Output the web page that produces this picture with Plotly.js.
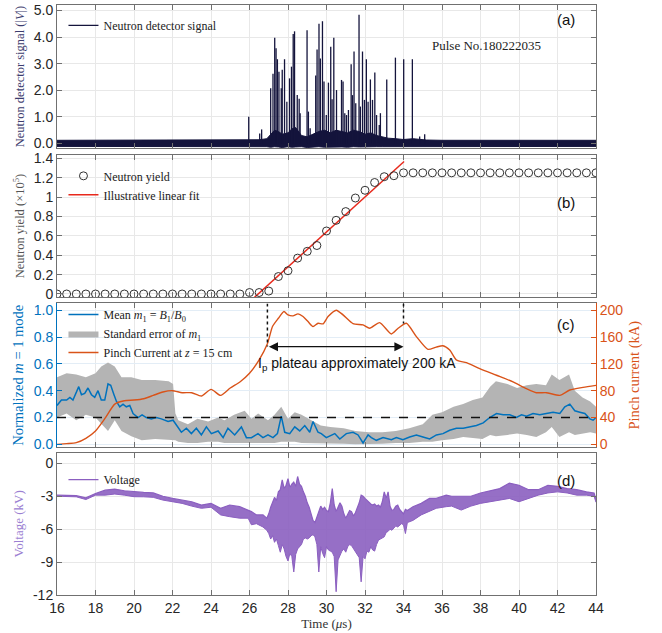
<!DOCTYPE html>
<html>
<head>
<meta charset="utf-8">
<script src="https://cdn.plot.ly/plotly-3.0.1.min.js"></script>
<style>
  html, body { margin: 0; padding: 0; background: #fff; }
  #myDiv { width: 662px; height: 633px; }
</style>
</head>
<body>
<div id="myDiv"></div>
<script>
// ---- (a) neutron detector signal: spike times / heights and baseline noise band
var spikeT = [25.96,26.53,26.63,27.1,27.22,27.31,27.38,27.45,27.53,27.65,27.7,27.82,27.94,28.08,28.18,28.27,28.34,28.48,28.58,28.63,28.99,29.06,29.15,29.44,29.51,29.61,29.68,29.79,29.87,29.99,30.1,30.22,30.29,30.38,30.52,30.78,30.86,30.95,31.04,31.14,31.28,31.35,31.43,31.52,31.69,31.76,31.87,31.97,32.07,32.16,32.28,32.39,32.51,32.6,32.74,32.8,33.13,33.58,34.01,34.46,34.84,35.1];
var spikeV = [1.01,0.38,0.53,2.08,2.62,3.98,3.58,3.17,2.70,2.08,2.77,3.17,1.57,2.45,2.89,4.12,4.22,1.82,1.68,1.14,4.26,1.20,0.57,2.56,3.54,4.5,3.2,4.6,2.33,1.07,2.29,3.64,1.66,3.98,2.01,2.39,2.33,1.14,1.07,1.26,2.98,1.82,3.46,1.51,4.84,1.39,3.46,1.64,3.17,1.57,2.41,1.64,2.67,1.07,0.7,1.14,2.41,3.23,3.17,3.17,0.26,0.35];
var noiseT  = [16,20,24,26,26.5,26.9,27.1,27.3,27.5,27.7,28.0,28.2,28.4,28.7,29.0,29.3,29.6,29.9,30.2,30.5,30.8,31.1,31.4,31.7,32.0,32.3,32.6,32.9,33.2,33.6,34.0,34.5,35.2,36,40,44];
var noiseHi = [0.12,0.12,0.12,0.13,0.14,0.18,0.35,0.5,0.45,0.35,0.4,0.55,0.6,0.3,0.25,0.35,0.45,0.5,0.4,0.5,0.45,0.4,0.5,0.45,0.35,0.4,0.3,0.25,0.2,0.18,0.15,0.18,0.13,0.12,0.12,0.12];
var noiseLo = [-0.11,-0.11,-0.11,-0.11,-0.11,-0.12,-0.14,-0.12,-0.13,-0.15,-0.12,-0.14,-0.13,-0.12,-0.15,-0.13,-0.12,-0.14,-0.13,-0.12,-0.13,-0.14,-0.12,-0.13,-0.12,-0.13,-0.12,-0.12,-0.12,-0.11,-0.11,-0.11,-0.11,-0.11,-0.11,-0.11];

// ---- (b) neutron yield (x1e5) and the illustrative fit
var yieldT = [16,16.5,17,17.5,18,18.5,19,19.5,20,20.5,21,21.5,22,22.5,23,23.5,24,24.5,25,25.5,26,26.5,27,27.5,28,28.5,29,29.5,30,30.5,31,31.5,32,32.5,33,33.5,34,34.5,35,35.5,36,36.5,37,37.5,38,38.5,39,39.5,40,40.5,41,41.5,42,42.5,43,43.5,44];
var yieldV = [0,0,0,0,0,0,0,0,0,0,0,0,0,0,0,0,0,0,0,0,0.015,0.015,0.03,0.18,0.24,0.37,0.44,0.50,0.65,0.76,0.85,0.99,1.07,1.15,1.21,1.22,1.25,1.25,1.25,1.25,1.25,1.25,1.25,1.25,1.25,1.25,1.25,1.25,1.25,1.25,1.25,1.25,1.25,1.25,1.25,1.25,1.25];
var fitT = [26.26, 34.03];
var fitV = [-0.034, 1.366];

// ---- (c) m=1 mode mean, its standard-error band, pinch current (kA)
var m1T = [16.0,16.23,16.5,16.67,16.83,17.0,17.13,17.27,17.44,17.61,17.79,17.96,18.13,18.3,18.48,18.65,18.79,18.96,19.09,19.26,19.43,19.6,19.78,19.95,20.21,20.42,20.64,20.9,21.16,21.42,21.77,22.03,22.29,22.46,22.72,22.98,23.24,23.5,23.76,24.02,24.37,24.63,24.88,25.23,25.58,25.84,26.1,26.44,26.7,26.96,27.22,27.45,27.65,27.83,28.09,28.35,28.61,28.87,29.13,29.3,29.56,29.73,29.99,30.25,30.43,30.69,31.03,31.38,31.64,31.9,32.16,32.33,32.59,32.94,33.37,33.63,33.97,34.32,34.67,35.01,35.36,35.71,36.05,36.4,36.75,37.1,37.44,37.79,38.14,38.48,38.83,39.18,39.52,39.87,40.13,40.39,40.73,41.08,41.42,41.77,42.12,42.38,42.64,42.9,43.16,43.42,43.68,43.85,44.0];
var m1V = [0.29,0.33,0.33,0.35,0.33,0.39,0.43,0.37,0.38,0.42,0.37,0.35,0.40,0.33,0.33,0.45,0.44,0.37,0.32,0.28,0.30,0.28,0.29,0.23,0.20,0.22,0.20,0.19,0.20,0.19,0.17,0.18,0.13,0.09,0.12,0.08,0.12,0.07,0.13,0.08,0.10,0.05,0.12,0.07,0.13,0.05,0.05,0.08,0.05,0.07,0.05,0.08,0.21,0.09,0.08,0.13,0.10,0.14,0.09,0.17,0.09,0.08,0.05,0.07,0.08,0.04,0.08,0.09,0.07,0.01,0.07,0.05,0.03,0.05,0.035,0.05,0.035,0.055,0.07,0.055,0.04,0.07,0.08,0.105,0.12,0.12,0.13,0.14,0.16,0.20,0.23,0.22,0.22,0.20,0.22,0.21,0.23,0.22,0.23,0.24,0.23,0.28,0.30,0.25,0.24,0.23,0.19,0.18,0.20];
var seT  = [16,16.5,17,17.5,18,18.3,18.65,19,19.35,19.86,20.4,21.1,21.8,22.03,22.15,22.3,22.8,23.3,23.85,24.37,24.7,25.2,25.75,26.1,26.45,26.96,27.3,27.65,28,28.35,28.7,29.2,29.7,30.2,30.9,31.5,32.2,32.9,33.6,34.3,35,35.5,36,36.6,37.1,37.6,38.1,38.5,38.8,39.4,39.9,40.4,40.9,41.4,41.7,42.1,42.6,42.9,43.3,43.7,44];
var seHi = [0.50,0.53,0.52,0.50,0.53,0.58,0.61,0.58,0.50,0.50,0.48,0.48,0.47,0.45,0.23,0.18,0.15,0.19,0.17,0.20,0.18,0.22,0.25,0.19,0.23,0.18,0.22,0.28,0.19,0.24,0.22,0.18,0.14,0.13,0.12,0.10,0.09,0.09,0.10,0.12,0.15,0.22,0.24,0.28,0.30,0.33,0.35,0.43,0.47,0.45,0.42,0.44,0.45,0.44,0.52,0.48,0.52,0.40,0.35,0.32,0.28];
var seLo = [0.20,0.23,0.18,0.22,0.20,0.15,0.10,0.18,0.10,0.06,0.03,0.04,0.03,0.03,0.03,0.02,0.01,0.01,0.02,0.02,0.01,0.01,0.01,0.005,0.01,0.01,0.01,0.02,0.02,0.02,0.01,0.01,0.005,0.005,0.005,0.0,0.0,0.005,0.01,0.01,0.02,0.02,0.03,0.04,0.055,0.045,0.04,0.07,0.06,0.07,0.08,0.07,0.055,0.09,0.13,0.055,0.09,0.07,0.08,0.09,0.08];
var curT = [16,16.5,17,17.5,18,18.5,19,19.5,20,20.5,21,21.5,22,22.5,23,23.5,24,24.5,25,25.5,26,26.5,26.93,27.2,27.5,27.79,28.0,28.26,28.52,28.78,29.04,29.3,29.56,29.82,30.08,30.51,30.86,31.38,31.9,32.24,32.76,33.37,33.72,34.15,34.67,35.27,35.7,36.05,36.4,36.75,37.27,37.96,38.83,39.69,40.39,40.9,41.42,42.12,42.64,43.33,44];
var curV = [0,1,2.5,9,20,39,60,65,66,68,73,78,80,77,77,72,82,73,84,93,106,126,150,176,188,198,193,191.5,194.5,190.5,183,175.6,180.5,179.6,190.5,200,193,180,178,173,181.5,164.6,173,180.5,160.6,141.6,145,147,140.6,125.7,121.7,113,103,93,83,77,77,73,81,85,88];
var plateauStart = 26.93, plateauEnd = 34.0;

// ---- (d) voltage (kV), upper / lower envelope of the trace
var voltT  = [16,17,17.5,18,18.5,19,19.5,20,20.5,21,21.5,22,22.5,23,23.5,24,24.5,24.97,25.49,25.93,26.1,26.36,26.7,
  26.9,27.0,27.1,27.2,27.3,27.4,27.5,27.6,27.7,27.8,27.9,28.0,28.1,28.2,28.3,28.4,28.5,28.6,28.7,28.8,28.9,29.0,29.1,29.2,29.3,29.4,29.5,29.6,29.7,29.8,29.9,30.0,30.1,30.2,30.3,30.4,30.5,30.6,30.7,30.8,30.9,31.0,31.1,31.2,31.3,31.4,31.5,31.6,31.7,31.8,31.9,32.0,32.1,32.2,32.3,32.4,32.5,32.6,32.7,32.8,32.9,33.0,33.1,33.2,33.3,33.4,33.5,33.6,33.7,33.8,33.9,34.0,34.1,34.2,
  34.49,34.92,35.35,35.7,36.22,36.5,37,37.5,38,38.5,39,39.5,40,40.5,41,41.5,42,42.5,43,43.5,43.9,44];
var voltHi = [-2.9,-2.95,-3.15,-2.75,-2.45,-2.35,-2.5,-2.6,-2.65,-2.7,-3.0,-3.2,-3.35,-3.5,-3.8,-3.65,-4.1,-3.8,-3.95,-4.25,-4.4,-4.7,-4.7,
  -5.0,-4.6,-4.0,-3.6,-3.1,-3.4,-2.6,-2.4,-1.5,-2.3,-2.0,-1.4,-2.2,-1.9,-1.7,-2.1,-1.2,-1.9,-2.1,-2.6,-3.0,-3.6,-4.0,-4.6,-5.2,-5.4,-4.9,-4.6,-3.9,-4.2,-4.0,-4.3,-4.4,-3.6,-2.3,-3.8,-4.4,-4.0,-3.6,-3.9,-4.6,-5.0,-4.7,-4.3,-4.4,-4.8,-4.5,-4.1,-3.6,-2.9,-3.0,-3.2,-3.4,-3.5,-3.7,-3.8,-3.7,-3.9,-3.8,-4.0,-3.5,-2.6,-3.2,-2.6,-3.9,-4.3,-4.2,-3.9,-3.8,-4.2,-4.4,-4.6,-4.2,-4.3,
  -3.95,-3.65,-3.2,-3.2,-2.9,-3.0,-3.0,-3.0,-2.7,-2.5,-2.3,-1.8,-2.0,-2.4,-2.4,-2.0,-2.1,-2.3,-2.4,-2.6,-2.7,-3.3];
var voltLo = [-3.0,-3.05,-3.3,-2.9,-2.9,-2.8,-2.9,-3.04,-3.05,-3.1,-3.35,-3.5,-3.65,-3.9,-4.1,-4.0,-4.7,-4.86,-5.0,-5.0,-5.6,-5.5,-5.8,
  -6.1,-6.4,-6.9,-6.6,-7.2,-6.9,-7.5,-8.1,-7.4,-7.8,-8.5,-8.9,-8.2,-8.5,-9.9,-8.3,-7.8,-7.6,-7.4,-6.9,-6.8,-6.9,-6.8,-6.6,-6.5,-6.7,-7.4,-9.9,-7.6,-8.2,-8.6,-7.6,-7.9,-8.0,-8.1,-8.5,-11.7,-8.8,-8.3,-8.0,-7.8,-8.1,-7.6,-7.4,-7.5,-7.8,-8.0,-8.3,-8.6,-10.8,-8.5,-8.7,-8.0,-8.1,-7.6,-7.9,-8.0,-7.4,-7.0,-6.9,-6.8,-6.7,-6.3,-6.2,-6.0,-6.1,-5.9,-5.7,-5.8,-5.6,-5.5,-5.6,-6.4,-5.4,
  -5.2,-4.7,-4.4,-4.1,-3.95,-3.9,-4.26,-3.9,-3.65,-3.5,-3.35,-3.2,-3.5,-3.2,-2.9,-2.7,-2.6,-2.7,-2.9,-2.9,-3.0,-3.55];
var voltTickVals = [0,-3,-6,-9,-12];
var voltTickText = ['0','-3','-6','-9','-12'];

// colours
var cNavy='#14143c', cBlue='#0072BD', cOrange='#D95319', cPurple='#8b5fc0', cGrey='#b4b4b4', cRed='#e8291c';
var sansF="'Liberation Sans Narrow', 'Liberation Sans', Arial, sans-serif";
var serifF="'Liberation Serif', 'DejaVu Serif', serif";

// spikes drawn as vertical strokes from the baseline
var spX=[], spY=[];
spikeT.forEach(function(t,i){ spX.push(t,t,null); spY.push(0,spikeV[i],null); });

var data = [
  { x: noiseT, y: noiseHi, xaxis:'x', yaxis:'y', mode:'lines', line:{color:cNavy,width:1}, showlegend:false, hoverinfo:'skip' },
  { x: noiseT, y: noiseLo, xaxis:'x', yaxis:'y', mode:'lines', fill:'tonexty', fillcolor:cNavy, line:{color:cNavy,width:1}, showlegend:false, hoverinfo:'skip' },
  { x: spX, y: spY, xaxis:'x', yaxis:'y', mode:'lines', line:{color:cNavy,width:1.3}, name:'Neutron detector signal', legend:'legend' },

  { x: fitT, y: fitV, xaxis:'x2', yaxis:'y2', mode:'lines', line:{color:cRed,width:1.5}, name:'Illustrative linear fit', legend:'legend2', legendrank:2 },
  { x: yieldT, y: yieldV, xaxis:'x2', yaxis:'y2', mode:'markers', marker:{symbol:'circle-open',size:8,color:'#333',line:{width:1}}, name:'Neutron yield', legend:'legend2', legendrank:1 },

  { x: seT, y: seHi, xaxis:'x3', yaxis:'y3', mode:'lines', line:{color:cGrey,width:0}, showlegend:false, hoverinfo:'skip' },
  { x: seT, y: seLo, xaxis:'x3', yaxis:'y3', mode:'lines', fill:'tonexty', fillcolor:cGrey, line:{color:cGrey,width:0}, name:'Standard error of <i>m</i><sub>1</sub>', legend:'legend3', legendrank:2 },
  { x: m1T, y: m1V, xaxis:'x3', yaxis:'y3', mode:'lines', line:{color:cBlue,width:1.5}, name:'Mean <i>m</i><sub>1</sub> = <i>B</i><sub>1</sub>/<i>B</i><sub>0</sub>', legend:'legend3', legendrank:1 },
  { x: curT, y: curV, xaxis:'x3', yaxis:'y5', mode:'lines', line:{color:cOrange,width:1.4,shape:'spline',smoothing:0.6}, name:'Pinch Current at <i>z</i> = 15 cm', legend:'legend3', legendrank:3 },

  { x: voltT, y: voltHi, xaxis:'x4', yaxis:'y4', mode:'lines', line:{color:cPurple,width:1.2}, name:'Voltage', legend:'legend4' },
  { x: voltT, y: voltLo, xaxis:'x4', yaxis:'y4', mode:'lines', fill:'tonexty', fillcolor:'rgba(139,95,192,0.9)', line:{color:cPurple,width:1}, showlegend:false, hoverinfo:'skip' }
];

function ax(extra) {
  var base = {
    showline:true, linecolor:'#707070', linewidth:1, mirror:'ticks',
    ticks:'inside', ticklen:5, tickcolor:'#707070',
    showgrid:true, gridcolor:'#e8e8e8', gridwidth:1, zeroline:false,
    tickfont:{family:sansF, size:14, color:'#262626'}
  };
  return Object.assign(base, extra);
}
function xax(anchor, show) {
  return ax({ anchor:anchor, range:[16,44], tick0:16, dtick:2, showticklabels:show });
}
function legendAt(y) {
  return { x:0.012, y:y, xanchor:'left', yanchor:'top', bgcolor:'rgba(255,255,255,0)', traceorder:'normal',
           font:{family:serifF, size:12, color:'#222'}, itemwidth:30, tracegroupgap:0 };
}

var layout = {
  width:662, height:633,
  margin:{l:57, r:66, t:5, b:38},
  paper_bgcolor:'#fff', plot_bgcolor:'#fff',
  xaxis:  xax('y', false),
  xaxis2: xax('y2', false),
  xaxis3: xax('y3', false),
  xaxis4: Object.assign(xax('y4', true), { title:{text:'Time (<i>μ</i>s)', font:{family:serifF,size:13,color:'#333'}, standoff:4} }),
  yaxis: ax({ domain:[0.7576,1], anchor:'x', range:[-0.17,5.21], tick0:0, dtick:1, tickformat:'.1f',
              title:{text:'Neutron detector signal (|<i>V</i>|)', font:{family:serifF,size:12.5,color:'#3c3c6e'}, standoff:6} }),
  yaxis2: ax({ domain:[0.5051,0.7458], anchor:'x2', range:[-0.031,1.434], tick0:0, dtick:0.2,
              title:{text:'Neutron yield (×10<sup>5</sup>)', font:{family:serifF,size:12.5,color:'#555'}, standoff:6} }),
  yaxis3: ax({ domain:[0.2508,0.4941], anchor:'x3', range:[-0.02,1.05], tick0:0, dtick:0.2, tickformat:'.1f',
              mirror:false, linecolor:cBlue, tickcolor:cBlue, gridcolor:'#e3edf6',
              tickfont:{family:sansF,size:14,color:cBlue},
              title:{text:'Normalized <i>m</i> = 1 mode', font:{family:serifF,size:14.5,color:cBlue}, standoff:6} }),
  yaxis5: ax({ overlaying:'y3', side:'right', anchor:'x3', range:[-4,210], tick0:0, dtick:40,
              mirror:false, showgrid:false, linecolor:cOrange, tickcolor:cOrange,
              tickfont:{family:sansF,size:14,color:cOrange},
              title:{text:'Pinch current (kA)', font:{family:serifF,size:14.5,color:cOrange}, standoff:6} }),
  yaxis4: ax({ domain:[0,0.2412], anchor:'x4', range:[-12,0.97], tickvals:voltTickVals, ticktext:voltTickText,
              title:{text:'Voltage (kV)', font:{family:serifF,size:13,color:'#9b80d2'}, standoff:6} }),
  legend:  legendAt(0.99),
  legend2: legendAt(0.735),
  legend3: legendAt(0.50),
  legend4: legendAt(0.22),
  shapes: [
    { type:'line', xref:'x3', yref:'y3', x0:16, x1:44, y0:0.2, y1:0.2, line:{color:'#111',width:1.5,dash:'dash'}, layer:'above' },
    { type:'line', xref:'x3', yref:'y3', x0:plateauStart, x1:plateauStart, y0:1.05, y1:0.73, line:{color:'#111',width:1.5,dash:'dot'} },
    { type:'line', xref:'x3', yref:'y3', x0:plateauEnd, x1:plateauEnd, y0:1.05, y1:0.90, line:{color:'#111',width:1.5,dash:'dot'} }
  ],
  annotations: [
    { xref:'x', yref:'y', x:42.45, y:4.65, text:'(a)', showarrow:false, font:{family:sansF,size:15,color:'#111'} },
    { xref:'x', yref:'y', x:38.3, y:3.67, text:'Pulse No.180222035', showarrow:false, font:{family:serifF,size:13,color:'#222'} },
    { xref:'x2', yref:'y2', x:42.45, y:0.94, text:'(b)', showarrow:false, font:{family:sansF,size:15,color:'#111'} },
    { xref:'x3', yref:'y3', x:42.45, y:0.89, text:'(c)', showarrow:false, font:{family:sansF,size:15,color:'#111'} },
    { xref:'x4', yref:'y4', x:42.45, y:-1.52, text:'(d)', showarrow:false, font:{family:sansF,size:15,color:'#111'} },
    { xref:'x3', yref:'y3', axref:'x3', ayref:'y3', x:plateauEnd, y:0.728, ax:plateauStart, ay:0.728, text:'',
      showarrow:true, arrowhead:2, arrowside:'end+start', arrowsize:1.4, arrowwidth:1.3, arrowcolor:'#111' },
    { xref:'x3', yref:'y3', x:31.6, y:0.60, text:'I<sub>p</sub> plateau approximately 200 kA', showarrow:false,
      font:{family:sansF,size:14,color:'#111'} }
  ]
};

var config = {displayModeBar:false, responsive:false};
Plotly.newPlot('myDiv', data, layout, config);
</script>
</body>
</html>
